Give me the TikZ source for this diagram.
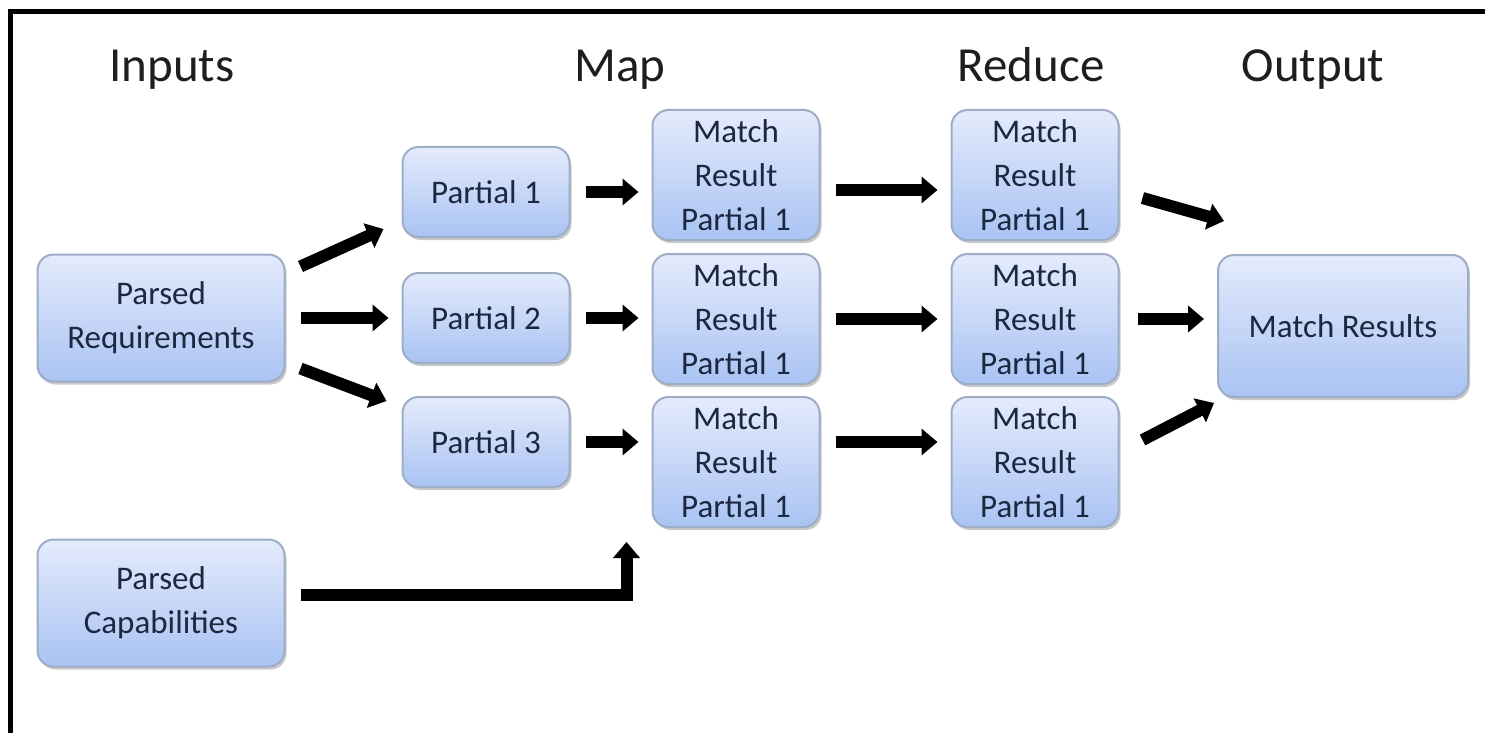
\documentclass[tikz,border=0pt]{standalone}
\usepackage{fontspec}
\setmainfont{Carlito}
\usetikzlibrary{arrows.meta,shadows,calc}
\definecolor{nodetop}{HTML}{E4EBFC}
\definecolor{nodebot}{HTML}{A9C3F3}
\definecolor{nodeedge}{HTML}{9EADC6}
\definecolor{nodetext}{HTML}{1C2740}
\definecolor{headtext}{HTML}{1E1E1E}
\begin{document}
\begin{tikzpicture}[x=0.5pt,y=-0.5pt,
  box/.style={draw=nodeedge, line width=1pt, rounded corners=8pt,
    top color=nodetop, bottom color=nodebot, text=nodetext,
    font=\fontsize{16.5}{22}\selectfont, align=center, inner sep=2pt,
    drop shadow={shadow xshift=1pt, shadow yshift=-1.5pt, opacity=0.35, fill=black!60}},
  partbox/.style={box, minimum width=83.5pt, minimum height=45pt},
  resbox/.style={box, minimum width=83.5pt, minimum height=65pt},
  inbox/.style={box, minimum width=123.5pt, minimum height=63.5pt},
  header/.style={anchor=base, text=headtext, font=\fontsize{24.5}{28}\selectfont},
  arr/.style={line width=6pt, line join=miter, -{Triangle[length=8pt,width=13pt]}}]
\useasboundingbox (0,0) rectangle (1488,733);
\fill[white] (0,0) rectangle (1488,733);
\draw[line width=2.5pt] (10,733) -- (10,12) -- (1485,12);

% headers
\node[header] (hin) at (172,82) {Inputs};
\node[header] (hmap) at (620,82) {Map};
\node[header] (hred) at (1031,82) {Reduce};
\node[header] (hout) at (1313,82) {Output};

% nodes
\node[inbox] (pr) at (161,318) {Parsed\\Requirements};
\node[inbox] (pc) at (161,603) {Parsed\\Capabilities};
\node[partbox] (p1) at (486,192) {Partial 1};
\node[partbox] (p2) at (486,318) {Partial 2};
\node[partbox] (p3) at (486,442) {Partial 3};
\node[resbox] (m1) at (736,175) {Match\\Result\\Partial 1};
\node[resbox] (m2) at (736,319) {Match\\Result\\Partial 1};
\node[resbox] (m3) at (736,462) {Match\\Result\\Partial 1};
\node[resbox] (r1) at (1035,175) {Match\\Result\\Partial 1};
\node[resbox] (r2) at (1035,319) {Match\\Result\\Partial 1};
\node[resbox] (r3) at (1035,462) {Match\\Result\\Partial 1};
\node[box, minimum width=125pt, minimum height=71pt] (mr) at (1343,326) {Match Results};

% arrows: inputs -> partials
\draw[arr] ($(pr.north east)+(15,13)$) -- ($(p1.south west)+(-18,-9)$);
\draw[arr, shorten <=7.5pt, shorten >=6.5pt] (pr.east) -- (pr.east -| p2.west);
\draw[arr] ($(pr.south east)+(15,-14)$) -- ($(p3.north west)+(-15,5)$);

% partials -> map results
\draw[arr, shorten <=7.5pt, shorten >=6.5pt] (p1.east) -- (p1.east -| m1.west);
\draw[arr, shorten <=7.5pt, shorten >=6.5pt] (p2.east) -- (p2.east -| m2.west);
\draw[arr, shorten <=7.5pt, shorten >=6.5pt] (p3.east) -- (p3.east -| m3.west);

% map -> reduce
\draw[arr] ($(m1.east)+(15,15)$) -- ($(r1.west)+(-13,15)$);
\draw[arr, shorten <=7.5pt, shorten >=6.5pt] (m2.east) -- (m2.east -| r2.west);
\draw[arr] ($(m3.east)+(15,-20)$) -- ($(r3.west)+(-13,-20)$);

% reduce -> output
\draw[arr] ($(r1.east)+(23,23)$) -- ($(mr.north west)+(7,-33)$);
\draw[arr, shorten <=9pt, shorten >=6.5pt] (r2.east) -- (r2.east -| mr.west);
\draw[arr] ($(r3.east)+(23,-22)$) -- ($(mr.south west)+(-3,5)$);

% capabilities -> map
\draw[arr] ($(pc.east)+(15,-8)$) -| ($(m3.south west)+(-25,14)$);
\end{tikzpicture}
\end{document}
